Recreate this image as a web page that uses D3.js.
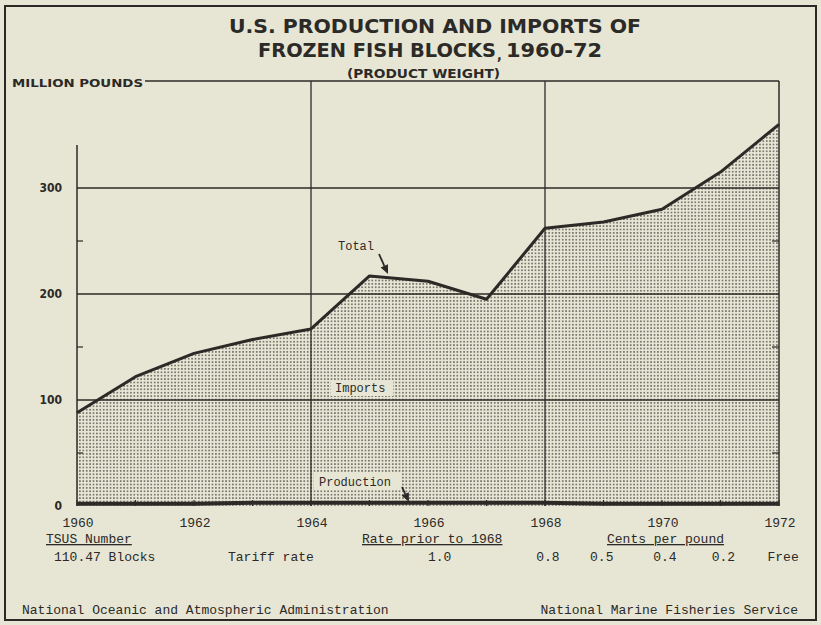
<!DOCTYPE html>
<html>
<head>
<meta charset="utf-8">
<script src="https://cdn.jsdelivr.net/npm/d3@7"></script>
<style>
  html, body { margin: 0; padding: 0; background: #e7e5d4; }
  svg { display: block; }
</style>
</head>
<body>
<svg id="chart"></svg>
<script>
// values (million pounds, product weight)
var years = [1960, 1961, 1962, 1963, 1964, 1965, 1966, 1967, 1968, 1969, 1970, 1971, 1972];
var total = [88, 122, 144, 157, 167, 217, 212, 195, 262, 268, 280, 315, 360];
var production = [3, 3, 3, 4, 4, 4, 4, 4, 4, 3, 3, 3, 3];

var yTicks = [0, 100, 200, 300];
var yMinor = [50, 150, 250];
var xLabels = [1960, 1962, 1964, 1966, 1968, 1970, 1972];
var xGrid = [1964, 1968];

var tariffRates = ["1.0", "0.8", "0.5", "0.4", "0.2", "Free"];
var tariffYears = [1966.2, 1968.05, 1968.97, 1970.05, 1971.05, 1972.07];

var width = 821, height = 625;
var bg = "#e7e5d4";
var ink = "#2b2a27";
var mono = "'Liberation Mono', 'DejaVu Sans Mono', monospace";
var sans = "'DejaVu Sans Condensed', 'DejaVu Sans', sans-serif";

var svg = d3.select("#chart")
  .attr("width", width)
  .attr("height", height);

var x = d3.scaleLinear().domain([1960, 1972]).range([77, 779]);
var y = d3.scaleLinear().domain([0, 300]).range([506, 188]);
var plotTop = 81;

// dotted screen fill
var defs = svg.append("defs");
var pat = defs.append("pattern")
  .attr("id", "dots")
  .attr("patternUnits", "userSpaceOnUse")
  .attr("width", 3.4)
  .attr("height", 3.4);
pat.append("circle")
  .attr("cx", 1.7).attr("cy", 1.7).attr("r", 0.85)
  .attr("fill", "#55544f");

// outer frame
svg.append("rect")
  .attr("x", 5).attr("y", 6)
  .attr("width", 811).attr("height", 614)
  .attr("fill", "none")
  .attr("stroke", ink)
  .attr("stroke-width", 2);

// area under total
var area = d3.area()
  .x(function(d, i) { return x(years[i]); })
  .y0(y(0))
  .y1(function(d) { return y(d); });

svg.append("path")
  .datum(total)
  .attr("d", area)
  .attr("fill", "url(#dots)");

// knock-out boxes behind the labels inside the screen
svg.append("rect").attr("x", 331).attr("y", 380).attr("width", 62).attr("height", 16).attr("fill", bg);
svg.append("rect").attr("x", 314).attr("y", 472).attr("width", 88).attr("height", 18).attr("fill", bg);

// grid lines
svg.append("g").selectAll("line")
  .data(yTicks.slice(1))
  .enter().append("line")
  .attr("x1", x(1960)).attr("x2", x(1972))
  .attr("y1", function(d) { return y(d); })
  .attr("y2", function(d) { return y(d); })
  .attr("stroke", ink)
  .attr("stroke-width", 1.3);

svg.append("g").selectAll("line")
  .data(xGrid)
  .enter().append("line")
  .attr("x1", function(d) { return x(d); })
  .attr("x2", function(d) { return x(d); })
  .attr("y1", plotTop).attr("y2", y(0))
  .attr("stroke", ink)
  .attr("stroke-width", 1.3);

// left axis, right edge, top line
svg.append("line")
  .attr("x1", x(1960)).attr("x2", x(1960))
  .attr("y1", 145).attr("y2", y(0))
  .attr("stroke", ink).attr("stroke-width", 1.5);
svg.append("line")
  .attr("x1", x(1972)).attr("x2", x(1972))
  .attr("y1", plotTop).attr("y2", y(0))
  .attr("stroke", ink).attr("stroke-width", 1.5);
svg.append("line")
  .attr("x1", 145).attr("x2", x(1972))
  .attr("y1", plotTop).attr("y2", plotTop)
  .attr("stroke", ink).attr("stroke-width", 1.3);

// minor ticks on both sides
svg.append("g").selectAll("line")
  .data(yMinor)
  .enter().append("line")
  .attr("x1", x(1960)).attr("x2", x(1960) + 6)
  .attr("y1", function(d) { return y(d); })
  .attr("y2", function(d) { return y(d); })
  .attr("stroke", ink).attr("stroke-width", 1.2);
svg.append("g").selectAll("line")
  .data(yMinor)
  .enter().append("line")
  .attr("x1", x(1972) - 7).attr("x2", x(1972))
  .attr("y1", function(d) { return y(d); })
  .attr("y2", function(d) { return y(d); })
  .attr("stroke", ink).attr("stroke-width", 1.2);

// year ticks along the bottom
svg.append("g").selectAll("line")
  .data(years)
  .enter().append("line")
  .attr("x1", function(d) { return x(d); })
  .attr("x2", function(d) { return x(d); })
  .attr("y1", y(0)).attr("y2", y(0) - 6)
  .attr("stroke", ink).attr("stroke-width", 1.2);

// production line (thick, near zero)
var prodLine = d3.line()
  .x(function(d, i) { return x(years[i]); })
  .y(function(d) { return y(d) + 1; });
svg.append("path")
  .datum(production)
  .attr("d", prodLine)
  .attr("fill", "none")
  .attr("stroke", ink)
  .attr("stroke-width", 4);

// total line
var totalLine = d3.line()
  .x(function(d, i) { return x(years[i]); })
  .y(function(d) { return y(d); });
svg.append("path")
  .datum(total)
  .attr("d", totalLine)
  .attr("fill", "none")
  .attr("stroke", ink)
  .attr("stroke-width", 3)
  .attr("stroke-linejoin", "round");

// y labels
svg.append("g").selectAll("text")
  .data(yTicks)
  .enter().append("text")
  .attr("x", 62)
  .attr("y", function(d) { return y(d) + 4; })
  .attr("text-anchor", "end")
  .attr("font-family", sans)
  .attr("font-weight", "bold")
  .attr("font-size", 12)
  .attr("fill", ink)
  .text(function(d) { return d; });

// x labels
svg.append("g").selectAll("text")
  .data(xLabels)
  .enter().append("text")
  .attr("x", function(d) { return x(d) + 1; })
  .attr("y", 527)
  .attr("text-anchor", "middle")
  .attr("font-family", mono)
  .attr("font-size", 13)
  .attr("fill", ink)
  .text(function(d) { return d; });

// titles
function label(txt, px, py, opts) {
  opts = opts || {};
  var t = svg.append("text")
    .attr("x", px).attr("y", py)
    .attr("font-family", opts.family || mono)
    .attr("font-size", opts.size || 13)
    .attr("font-weight", opts.weight || "normal")
    .attr("text-anchor", opts.anchor || "start")
    .attr("fill", ink)
    .text(txt);
  if (opts.len) t.attr("textLength", opts.len).attr("lengthAdjust", "spacingAndGlyphs");
  return t;
}

label("U.S. PRODUCTION AND IMPORTS OF", 229, 33, { family: sans, size: 19, weight: "bold", len: 412 });
label("FROZEN FISH BLOCKS", 258, 57, { family: sans, size: 19, weight: "bold", len: 238 });
label(",", 497, 60, { family: sans, size: 14, weight: "bold" });
label("1960-72", 506, 57, { family: sans, size: 19, weight: "bold", len: 96 });
label("(PRODUCT WEIGHT)", 347, 78, { family: sans, size: 12, weight: "bold", len: 153 });
label("MILLION POUNDS", 12, 87, { family: sans, size: 11, weight: "bold", len: 131 });

// series labels with arrows
label("Total", 338, 250, { size: 12 });
label("Imports", 335, 392, { size: 12 });
label("Production", 319, 486, { size: 12 });

function arrow(x1, y1, x2, y2) {
  var ang = Math.atan2(y2 - y1, x2 - x1);
  var h = 9, w = 4;
  var bx = x2 - h * Math.cos(ang), by = y2 - h * Math.sin(ang);
  var px = -Math.sin(ang) * w, py = Math.cos(ang) * w;
  svg.append("line")
    .attr("x1", x1).attr("y1", y1).attr("x2", bx).attr("y2", by)
    .attr("stroke", ink).attr("stroke-width", 1.8);
  svg.append("path")
    .attr("d", "M" + x2 + "," + y2 + "L" + (bx + px) + "," + (by + py) + "L" + (bx - px) + "," + (by - py) + "Z")
    .attr("fill", ink);
}
arrow(379, 254, 388, 274);
arrow(402, 487, 409, 502);

// tariff notes
label("TSUS Number", 46, 543).attr("text-decoration", "underline");
label("110.47 Blocks", 54, 561);
label("Tariff rate", 228, 561);
label("Rate prior to 1968", 362, 543).attr("text-decoration", "underline");
label("Cents per pound", 607, 543).attr("text-decoration", "underline");
svg.append("g").selectAll("text")
  .data(tariffRates)
  .enter().append("text")
  .attr("x", function(d, i) { return x(tariffYears[i]); })
  .attr("y", 561)
  .attr("text-anchor", "middle")
  .attr("font-family", mono)
  .attr("font-size", 13)
  .attr("fill", ink)
  .text(function(d) { return d; });

// footer
label("National Oceanic and Atmospheric Administration", 22, 614);
label("National Marine Fisheries Service", 798, 614, { anchor: "end" });
</script>
</body>
</html>
